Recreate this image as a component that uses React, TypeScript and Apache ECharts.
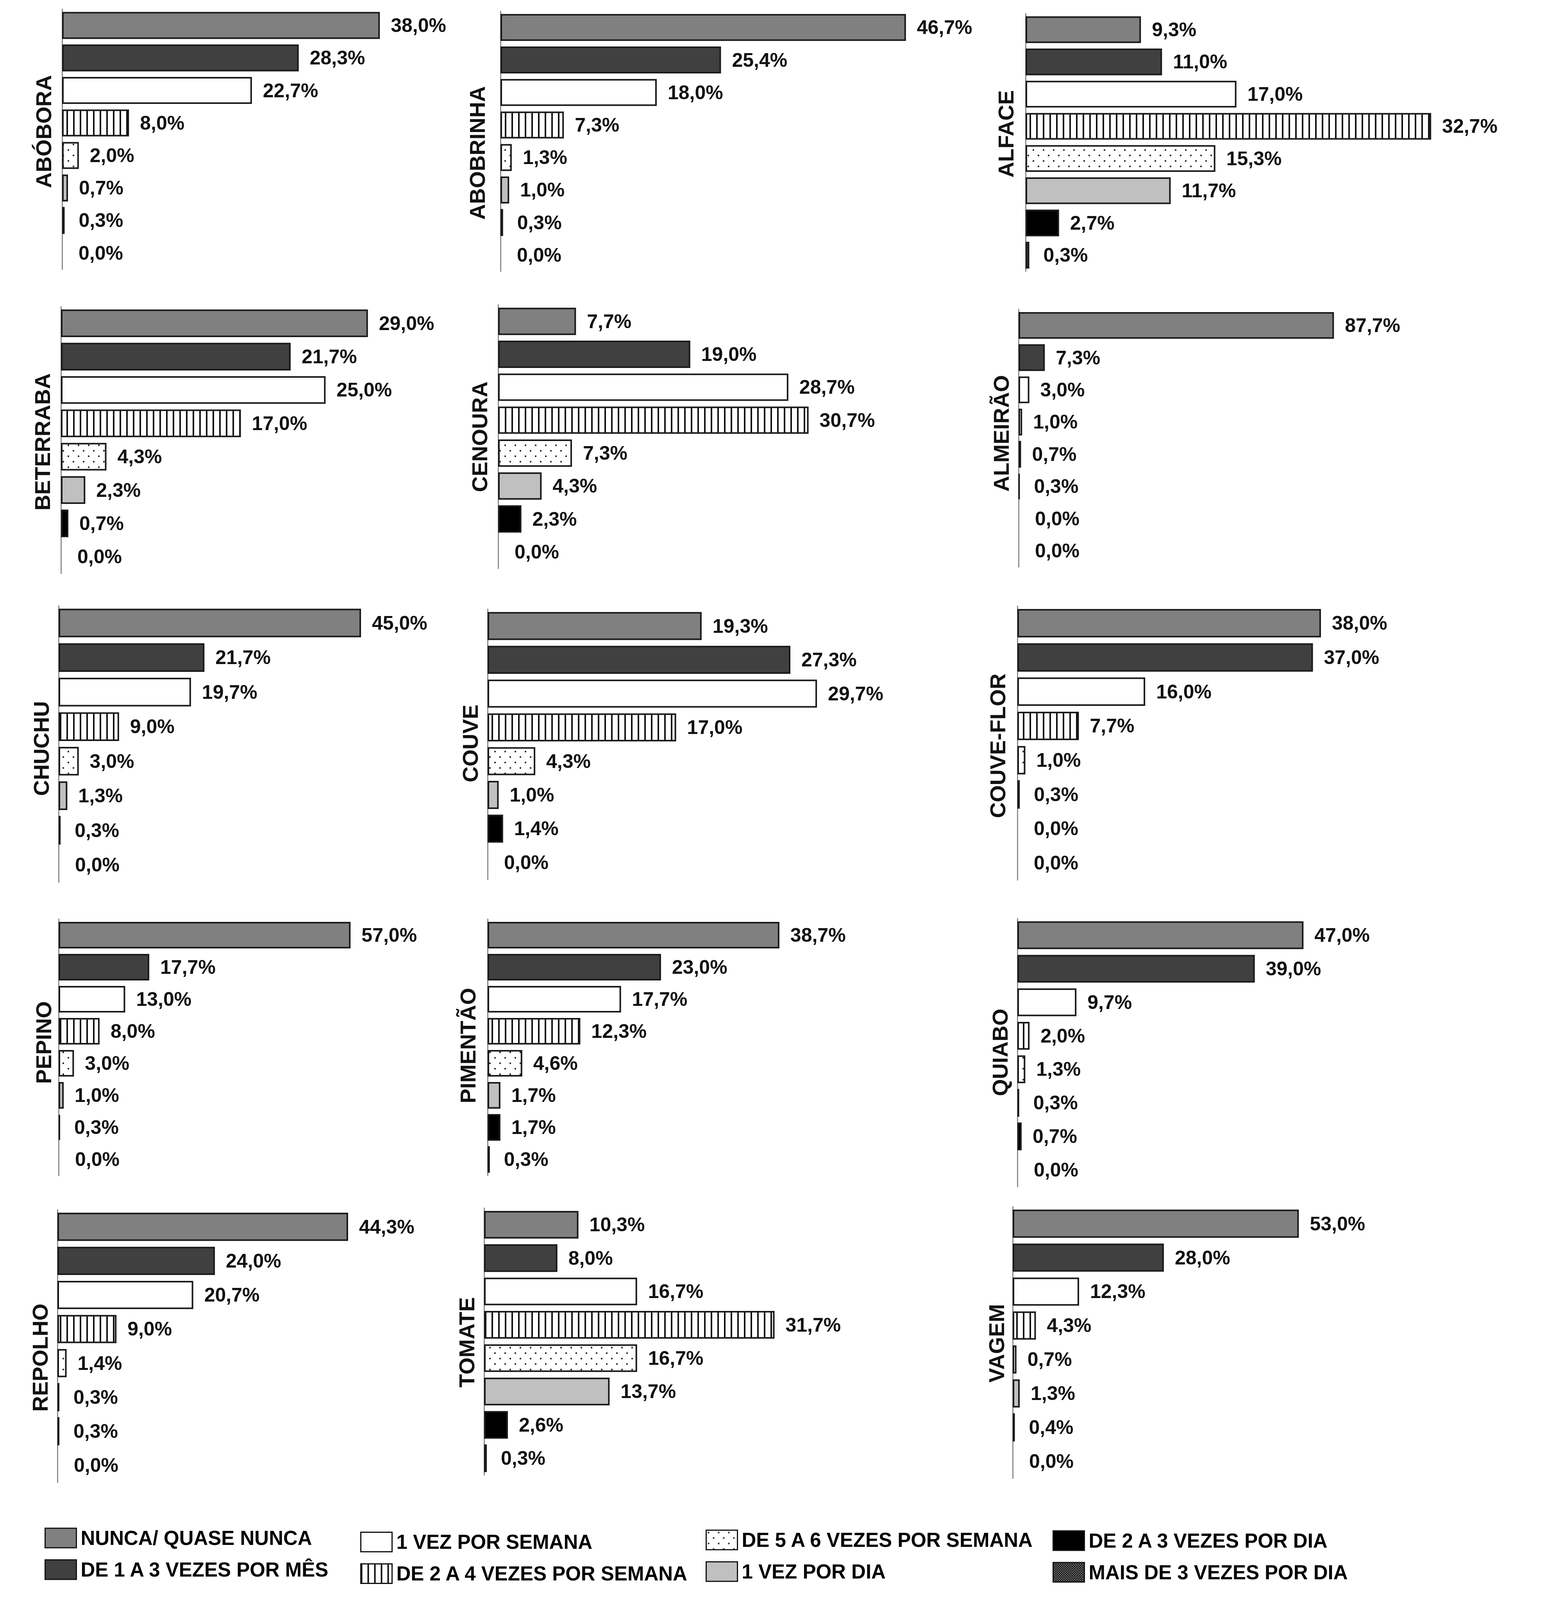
import React, { useEffect, useRef } from "react";
import * as echarts from "echarts";

const frequencies = [
  "NUNCA/ QUASE NUNCA",
  "DE 1 A 3 VEZES POR MÊS",
  "1 VEZ POR SEMANA",
  "DE 2 A 4 VEZES POR SEMANA",
  "DE 5 A 6 VEZES POR SEMANA",
  "1 VEZ POR DIA",
  "DE 2 A 3 VEZES POR DIA",
  "MAIS DE 3 VEZES POR DIA",
];

const vegetables = [
  "ABÓBORA", "ABOBRINHA", "ALFACE",
  "BETERRABA", "CENOURA", "ALMEIRÃO",
  "CHUCHU", "COUVE", "COUVE-FLOR",
  "PEPINO", "PIMENTÃO", "QUIABO",
  "REPOLHO", "TOMATE", "VAGEM",
];

const abobora = [38.0, 28.3, 22.7, 8.0, 2.0, 0.7, 0.3, 0.0];
const abobrinha = [46.7, 25.4, 18.0, 7.3, 1.3, 1.0, 0.3, 0.0];
const alface = [9.3, 11.0, 17.0, 32.7, 15.3, 11.7, 2.7, 0.3];
const beterraba = [29.0, 21.7, 25.0, 17.0, 4.3, 2.3, 0.7, 0.0];
const cenoura = [7.7, 19.0, 28.7, 30.7, 7.3, 4.3, 2.3, 0.0];
const almeirao = [87.7, 7.3, 3.0, 1.0, 0.7, 0.3, 0.0, 0.0];
const chuchu = [45.0, 21.7, 19.7, 9.0, 3.0, 1.3, 0.3, 0.0];
const couve = [19.3, 27.3, 29.7, 17.0, 4.3, 1.0, 1.4, 0.0];
const couveFlor = [38.0, 37.0, 16.0, 7.7, 1.0, 0.3, 0.0, 0.0];
const pepino = [57.0, 17.7, 13.0, 8.0, 3.0, 1.0, 0.3, 0.0];
const pimentao = [38.7, 23.0, 17.7, 12.3, 4.6, 1.7, 1.7, 0.3];
const quiabo = [47.0, 39.0, 9.7, 2.0, 1.3, 0.3, 0.7, 0.0];
const repolho = [44.3, 24.0, 20.7, 9.0, 1.4, 0.3, 0.3, 0.0];
const tomate = [10.3, 8.0, 16.7, 31.7, 16.7, 13.7, 2.6, 0.3];
const vagem = [53.0, 28.0, 12.3, 4.3, 0.7, 1.3, 0.4, 0.0];

const panelValues = [
  abobora, abobrinha, alface,
  beterraba, cenoura, almeirao,
  chuchu, couve, couveFlor,
  pepino, pimentao, quiabo,
  repolho, tomate, vagem,
];

// Layout in reference pixels (3957 x 4707); y is rescaled to the real viewport height
const REF_H = 4707;
const GRID_W = 1100;
const panelLayout = [
  { left: 159, top: 27, height: 765, max: 51.4, tx: 111, ty: 387 },
  { left: 1281, top: 33, height: 765, max: 49.5, tx: 1221, ty: 450 },
  { left: 2625, top: 40, height: 758, max: 34.65, tx: 2574, ty: 394 },
  { left: 156, top: 902, height: 785, max: 40.6, tx: 108, ty: 1300 },
  { left: 1275, top: 897, height: 775, max: 42.5, tx: 1227, ty: 1285 },
  { left: 2607, top: 910, height: 758, max: 119.5, tx: 2562, ty: 1275 },
  { left: 150, top: 1782, height: 813, max: 63.95, tx: 105, ty: 2202 },
  { left: 1248, top: 1792, height: 795, max: 38.75, tx: 1203, ty: 2187 },
  { left: 2604, top: 1783, height: 806, max: 53.8, tx: 2553, ty: 2194 },
  { left: 150, top: 2704, height: 754, max: 83.9, tx: 111, ty: 3067 },
  { left: 1248, top: 2704, height: 754, max: 57.0, tx: 1197, ty: 3076 },
  { left: 2604, top: 2702, height: 789, max: 70.6, tx: 2559, ty: 3096 },
  { left: 147, top: 3559, height: 802, max: 65.5, tx: 102, ty: 3994 },
  { left: 1239, top: 3554, height: 785, max: 46.9, tx: 1194, ty: 3949 },
  { left: 2592, top: 3550, height: 799, max: 79.6, tx: 2550, ty: 3952 },
];

const legendLayout = [
  { left: 114, top: 4494 },
  { left: 922, top: 4506 },
  { left: 1806, top: 4500 },
  { left: 2694, top: 4502 },
];

const FONT = "'Liberation Sans', Arial, sans-serif";

function makePattern(w: number, h: number, draw: (ctx: CanvasRenderingContext2D) => void) {
  const c = document.createElement("canvas");
  c.width = w;
  c.height = h;
  const ctx = c.getContext("2d") as CanvasRenderingContext2D;
  draw(ctx);
  return { image: c, repeat: "repeat", imageWidth: w, imageHeight: h } as any;
}

function fmt(v: number) {
  return v.toFixed(1).replace(".", ",") + "%";
}

const viewH = typeof window !== "undefined" && window.innerHeight ? Math.min(window.innerHeight, REF_H) : REF_H;

export default function App() {
  const ref = useRef<HTMLDivElement>(null);

  useEffect(() => {
    if (!ref.current) return;
    const chart = echarts.init(ref.current, undefined, { renderer: "svg" });
    const SY = viewH / REF_H;

    const stripes = makePattern(17, 8, (ctx) => {
      ctx.fillStyle = "#ffffff";
      ctx.fillRect(0, 0, 17, 8);
      ctx.fillStyle = "#111111";
      ctx.fillRect(0, 0, 4, 8);
    });
    const dots = makePattern(26, 28, (ctx) => {
      ctx.fillStyle = "#ffffff";
      ctx.fillRect(0, 0, 26, 28);
      ctx.fillStyle = "#333333";
      ctx.fillRect(4, 4, 4, 4);
      ctx.fillRect(17, 18, 4, 4);
    });
    const checker = makePattern(6, 6, (ctx) => {
      ctx.fillStyle = "#1a1a1a";
      ctx.fillRect(0, 0, 6, 6);
      ctx.fillStyle = "#bdbdbd";
      ctx.fillRect(0, 0, 2, 2);
      ctx.fillRect(3, 3, 2, 2);
    });

    const fills: any[] = ["#808080", "#404040", "#ffffff", stripes, dots, "#c0c0c0", "#000000", checker];

    const grid: any[] = [];
    const xAxis: any[] = [];
    const yAxis: any[] = [];
    const series: any[] = [];
    const graphic: any[] = [];

    const labelDistance = (v: number) => (v === 0 ? 42 : v < 0.5 ? 36 : 28);

    panelValues.forEach((vals, p) => {
      const L = panelLayout[p];
      grid.push({ left: L.left, top: L.top * SY, width: GRID_W, height: L.height * SY });
      xAxis.push({ type: "value", gridIndex: p, min: 0, max: L.max, show: false });
      yAxis.push({
        type: "category",
        gridIndex: p,
        inverse: true,
        data: frequencies,
        axisLine: { show: true, lineStyle: { color: "#8c8c8c", width: 3 } },
        axisTick: { show: false },
        axisLabel: { show: false },
        splitLine: { show: false },
      });
      frequencies.forEach((f, k) => {
        series.push({
          type: "bar",
          name: f,
          xAxisIndex: p,
          yAxisIndex: p,
          barGap: "-100%",
          barCategoryGap: "17%",
          silent: true,
          data: vals.map((v, j) =>
            j === k
              ? {
                  value: v,
                  itemStyle: v === 0 ? { borderWidth: 0 } : undefined,
                  label: { distance: labelDistance(v) },
                }
              : "-"
          ),
          itemStyle: { color: fills[k], borderColor: "#1a1a1a", borderWidth: 4 },
          label: {
            show: true,
            position: "right",
            distance: 28,
            formatter: (prm: any) => fmt(Number(prm.value)),
            fontSize: 50,
            fontWeight: "bold",
            fontFamily: FONT,
            color: "#111111",
          },
        });
      });
      graphic.push({
        type: "text",
        x: L.tx,
        y: L.ty * SY,
        rotation: Math.PI / 2,
        style: {
          text: vegetables[p],
          fontSize: 56,
          fontWeight: "bold",
          fontFamily: FONT,
          fill: "#111111",
          textAlign: "center",
          textVerticalAlign: "middle",
        },
      });
    });

    const itemH = Math.round(58 * SY);
    const legend = legendLayout.map((pos, i) => ({
      left: pos.left,
      top: pos.top * SY,
      orient: "vertical",
      padding: 0,
      itemGap: Math.round(90 * SY) - itemH,
      itemWidth: 80,
      itemHeight: itemH,
      icon: "rect",
      selectedMode: false,
      data: [frequencies[i * 2], frequencies[i * 2 + 1]],
      itemStyle: { borderWidth: 3, borderColor: "#111111" },
      textStyle: { fontSize: 51, fontWeight: "bold", fontFamily: FONT, color: "#000000", padding: [0, 0, 0, 6] },
    }));

    chart.setOption({
      animation: false,
      backgroundColor: "#ffffff",
      grid,
      xAxis,
      yAxis,
      series,
      legend,
      graphic,
    });

    return () => chart.dispose();
  }, []);

  return (
    <div
      ref={ref}
      style={{ position: "absolute", left: 0, top: 0, width: 3957, height: viewH, background: "#fff" }}
    />
  );
}
